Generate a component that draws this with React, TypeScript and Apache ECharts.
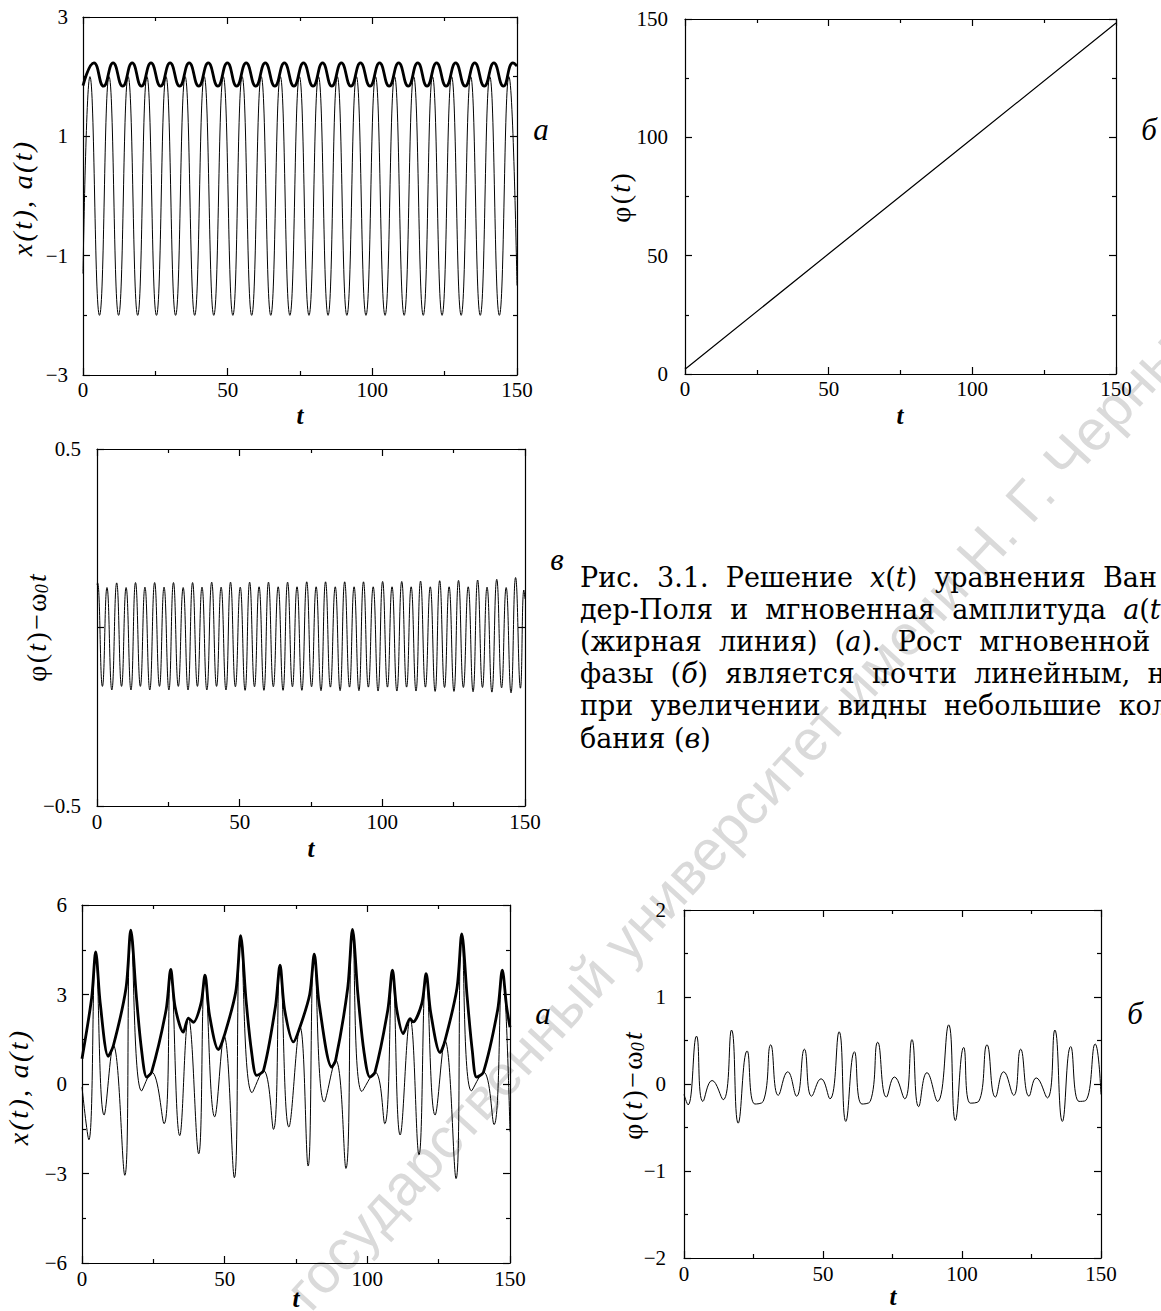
import React, { useEffect, useRef } from 'react';
import * as echarts from 'echarts';

// ---------- shared ticks ----------
const tTicks = [0, 50, 100, 150];
const tMinorTicks = [25, 75, 125];

// ---------- panel а (Van der Pol): x(t) and a(t) ----------
const vdpYTicks = [-3, -1, 1, 3];
const vdpYMinor = [-2, 0, 2];
const vdpX: number[][] = [
  [0, -1.3], [2.4, 2.0], [5.7, -2.0], [9.0, 2.0], [12.3, -2.0], [15.6, 2.0], [18.9, -2.0], [22.1, 2.0],
  [25.4, -2.0], [28.7, 2.0], [32.0, -2.0], [35.3, 2.0], [38.6, -2.0], [41.9, 2.0], [45.2, -2.0], [48.5, 2.0],
  [51.8, -2.0], [55.0, 2.0], [58.3, -2.0], [61.6, 2.0], [64.9, -2.0], [68.2, 2.0], [71.5, -2.0], [74.8, 2.0],
  [78.1, -2.0], [81.4, 2.0], [84.7, -2.0], [87.9, 2.0], [91.2, -2.0], [94.5, 2.0], [97.8, -2.0], [101.1, 2.0],
  [104.4, -2.0], [107.7, 2.0], [111.0, -2.0], [114.3, 2.0], [117.6, -2.0], [120.8, 2.0], [124.1, -2.0],
  [127.4, 2.0], [130.7, -2.0], [134.0, 2.0], [137.3, -2.0], [140.6, 2.0], [143.9, -2.0], [147.2, 2.0], [150, -1.5],
];
const vdpA: number[][] = [
  [0, 1.85], [3.8, 2.23], [7.1, 1.84], [10.4, 2.23], [13.7, 1.84], [17.0, 2.23], [20.2, 1.84], [23.5, 2.23],
  [26.8, 1.84], [30.1, 2.23], [33.4, 1.84], [36.7, 2.23], [40.0, 1.84], [43.3, 2.23], [46.6, 1.84], [49.9, 2.23],
  [53.1, 1.84], [56.4, 2.23], [59.7, 1.84], [63.0, 2.23], [66.3, 1.84], [69.6, 2.23], [72.9, 1.84], [76.2, 2.23],
  [79.5, 1.84], [82.8, 2.23], [86.0, 1.84], [89.3, 2.23], [92.6, 1.84], [95.9, 2.23], [99.2, 1.84], [102.5, 2.23],
  [105.8, 1.84], [109.1, 2.23], [112.4, 1.84], [115.7, 2.23], [118.9, 1.84], [122.2, 2.23], [125.5, 1.84],
  [128.8, 2.23], [132.1, 1.84], [135.4, 2.23], [138.7, 1.84], [142.0, 2.23], [145.3, 1.84], [148.6, 2.23], [150, 2.18],
];

// ---------- panel б: phase φ(t) ----------
const phaseYTicks = [0, 50, 100, 150];
const phaseYMinor = [25, 75, 125];
const vdpPhase: number[][] = [[0, 2.0], [50, 50.8], [100, 99.5], [150, 148.3]];

// ---------- panel в: φ(t) − ω0 t ----------
const devYTicks = [-0.5, 0, 0.5];
const devYLabels = [-0.5, 0.5];
const vdpPhaseDev: number[][] = [
  [0, 0.12], [0.2, 0.125], [1.9, -0.165], [3.5, 0.112], [5.2, -0.175], [6.9, 0.125], [8.6, -0.165], [10.2, 0.112],
  [11.9, -0.175], [13.5, 0.126], [15.2, -0.165], [16.8, 0.113], [18.5, -0.175], [20.2, 0.126], [21.9, -0.165],
  [23.5, 0.113], [25.2, -0.175], [26.8, 0.126], [28.5, -0.165], [30.2, 0.112], [31.9, -0.175], [33.5, 0.126],
  [35.2, -0.165], [36.8, 0.113], [38.5, -0.175], [40.2, 0.127], [41.9, -0.165], [43.5, 0.113], [45.2, -0.175],
  [46.8, 0.127], [48.5, -0.166], [50.2, 0.113], [51.9, -0.176], [53.5, 0.127], [55.2, -0.166], [56.8, 0.114],
  [58.5, -0.176], [60.1, 0.127], [61.8, -0.166], [63.5, 0.114], [65.2, -0.176], [66.8, 0.127], [68.5, -0.166],
  [70.1, 0.114], [71.8, -0.176], [73.5, 0.128], [75.2, -0.166], [76.8, 0.114], [78.5, -0.177], [80.1, 0.128],
  [81.8, -0.167], [83.5, 0.114], [85.2, -0.177], [86.8, 0.128], [88.5, -0.167], [90.1, 0.114], [91.8, -0.177],
  [93.4, 0.128], [95.1, -0.167], [96.8, 0.114], [98.5, -0.178], [100.1, 0.129], [101.8, -0.167], [103.4, 0.114],
  [105.1, -0.178], [106.8, 0.129], [108.5, -0.167], [110.1, 0.114], [111.8, -0.178], [113.4, 0.13], [115.1, -0.167],
  [116.8, 0.114], [118.5, -0.179], [120.1, 0.131], [121.8, -0.168], [123.4, 0.114], [125.1, -0.179], [126.7, 0.132],
  [128.4, -0.168], [130.1, 0.114], [131.8, -0.18], [133.4, 0.133], [135.1, -0.168], [136.7, 0.113], [138.4, -0.181],
  [140.1, 0.135], [141.8, -0.169], [143.4, 0.112], [145.1, -0.183], [146.7, 0.14], [148.4, -0.17], [149.6, 0.105],
  [150, 0.08],
];

// ---------- lower panel а (chaotic): x(t), a(t) ----------
const chaosYTicks = [-6, -3, 0, 3, 6];
const chaosYMinor = [-4.5, -1.5, 1.5, 4.5];
const chaosX: number[][] = [
  [0, -0.1], [2.4, -1.87], [4.8, 4.43], [7.75, -1.04], [11.0, 1.29], [15.0, -3.06], [17.1, 5.16], [20.9, -0.23],
  [24.4, 0.4], [28.75, -1.33], [31.1, 3.84], [34.25, -1.73], [37.3, 2.21], [40.9, -2.34], [43.1, 3.65],
  [46.5, -1.1], [49.8, 1.6], [53.4, -3.14], [55.6, 4.97], [59.6, -0.29], [63.6, 0.45], [67.1, -1.52], [69.4, 3.98],
  [72.5, -1.44], [76.4, 1.91], [79.25, -2.75], [81.4, 4.35], [84.9, -0.6], [88.9, 0.8], [92.5, -2.83], [94.8, 5.18],
  [98.1, -0.25], [102.7, 0.4], [106.1, -1.33], [108.8, 3.82], [111.5, -1.71], [115.0, 2.19], [118.1, -2.37],
  [120.6, 3.7], [123.75, -1.04], [127.2, 1.45], [131.1, -3.17], [133.1, 5.03], [136.5, -0.23], [140.7, 0.4],
  [144.4, -1.36], [147.3, 3.82], [150, -1.6],
];
const chaosA: number[][] = [
  [0, 0.85], [3.4, 2.9], [4.8, 4.43], [6.4, 2.7], [9.2, 0.93], [11.0, 1.29], [15.4, 3.2], [17.1, 5.16], [19.0, 3.0],
  [20.8, 1.2], [22.7, 0.23], [24.4, 0.4], [29.5, 2.5], [31.1, 3.84], [32.6, 2.6], [35.5, 1.74], [37.3, 2.21],
  [39.0, 2.07], [41.7, 2.7], [43.1, 3.65], [44.7, 2.3], [47.8, 1.15], [49.8, 1.6], [53.9, 3.1], [55.6, 4.97],
  [57.5, 2.8], [59.4, 1.1], [61.2, 0.29], [63.6, 0.45], [67.8, 2.6], [69.4, 3.98], [71.0, 2.5], [74.1, 1.41],
  [76.4, 1.91], [79.8, 3.0], [81.4, 4.35], [83.1, 2.7], [87.5, 0.57], [88.9, 0.8], [93.1, 3.2], [94.8, 5.18],
  [96.7, 3.0], [98.8, 1.1], [100.9, 0.23], [102.7, 0.4], [107.2, 2.5], [108.8, 3.82], [110.3, 2.5], [112.6, 1.69],
  [115.0, 2.19], [116.0, 2.08], [119.1, 2.7], [120.6, 3.7], [122.2, 2.4], [125.5, 1.05], [127.2, 1.45],
  [131.4, 3.2], [133.1, 5.03], [135.0, 2.9], [136.8, 1.1], [138.3, 0.23], [140.7, 0.4], [145.7, 2.5], [147.3, 3.82],
  [148.8, 2.6], [150, 1.9],
];

// ---------- lower panel б (chaotic): φ(t) − ω0 t ----------
const chaosDevYTicks = [-2, -1, 0, 1, 2];
const chaosDevYMinor = [-1.5, -0.5, 0.5, 1.5];
const chaosPhaseDev: number[][] = [
  [0, -0.12], [1.45, -0.24], [4.5, 0.55], [6.8, -0.2], [10.1, 0.04], [14.1, -0.18], [17.1, 0.62], [19.5, -0.45],
  [22.7, 0.38], [25.5, -0.23], [28.5, -0.2], [31.2, 0.45], [33.9, -0.13], [37.3, 0.14], [40.5, -0.14], [43.3, 0.4],
  [45.9, -0.14], [49.3, 0.06], [52.5, -0.17], [55.8, 0.6], [58.2, -0.43], [61.3, 0.37], [64.0, -0.23], [67.0, -0.2],
  [69.7, 0.48], [72.8, -0.15], [75.7, 0.08], [79.4, -0.17], [82.0, 0.51], [84.4, -0.26], [87.4, 0.13], [91.2, -0.2],
  [95.2, 0.68], [97.6, -0.42], [100.6, 0.42], [103.0, -0.22], [106.0, -0.2], [109.0, 0.45], [112.0, -0.15],
  [115.0, 0.14], [118.6, -0.13], [121.1, 0.4], [124.1, -0.14], [126.7, 0.07], [130.7, -0.16], [133.4, 0.62],
  [136.1, -0.43], [139.1, 0.43], [142.1, -0.2], [144.5, -0.19], [147.9, 0.46], [150, -0.12],
];

// ---------- caption ----------
const captionLines = [
  'Рис.  3.1.  Решение  {i|x}({i|t})  уравнения  Ван',
  'дер-Поля  и  мгновенная  амплитуда  {i|a}({i|t})',
  '(жирная  линия)  ({i|a}).  Рост  мгновенной',
  'фазы  ({i|б})  является  почти  линейным,  но',
  'при  увеличении  видны  небольшие  коле-',
  'бания ({i|в})',
];
const watermark = 'государственный университет имени Н. Г. Чернышевского';

const SERIF = 'Liberation Serif, serif';
const CAPTION_FONT = 'DejaVu Serif, serif';
const HS = '\u200A';
const fmt = (v: number) => (v < 0 ? '\u2212' + String(Math.abs(v)) : String(v));

type Panel = {
  grid: { left: number; top: number; width: number; height: number };
  yMin: number; yMax: number;
  yMajor: number[]; yMinor: number[]; yLabels: number[]; yMargin: number; xMargin: number;
  series: { data: number[][]; width: number; smooth: number }[];
};

const panels: Panel[] = [
  {
    grid: { left: 83, top: 17, width: 434, height: 358 }, yMin: -3, yMax: 3,
    yMajor: vdpYTicks, yMinor: vdpYMinor, yLabels: vdpYTicks, yMargin: 15, xMargin: 4,
    series: [{ data: vdpX, width: 1, smooth: 0.5 }, { data: vdpA, width: 2.8, smooth: 0.5 }],
  },
  {
    grid: { left: 685, top: 19, width: 431, height: 355 }, yMin: 0, yMax: 150,
    yMajor: phaseYTicks, yMinor: phaseYMinor, yLabels: phaseYTicks, yMargin: 17, xMargin: 4,
    series: [{ data: vdpPhase, width: 1.2, smooth: 0 }],
  },
  {
    grid: { left: 97, top: 449, width: 428, height: 357 }, yMin: -0.5, yMax: 0.5,
    yMajor: devYTicks, yMinor: [], yLabels: devYLabels, yMargin: 16, xMargin: 5,
    series: [{ data: vdpPhaseDev, width: 1, smooth: 0.5 }],
  },
  {
    grid: { left: 82, top: 905, width: 428, height: 358 }, yMin: -6, yMax: 6,
    yMajor: chaosYTicks, yMinor: chaosYMinor, yLabels: chaosYTicks, yMargin: 15, xMargin: 5,
    series: [{ data: chaosX, width: 1, smooth: 0.45 }, { data: chaosA, width: 2.8, smooth: 0.3 }],
  },
  {
    grid: { left: 684, top: 910, width: 417, height: 348 }, yMin: -2, yMax: 2,
    yMajor: chaosDevYTicks, yMinor: chaosDevYMinor, yLabels: chaosDevYTicks, yMargin: 18, xMargin: 5,
    series: [{ data: chaosPhaseDev, width: 1, smooth: 0.5 }],
  },
];

const lineStyle = { color: '#000', width: 1.2 };
const labelStyle = { fontFamily: SERIF, fontSize: 21, color: '#000' };

function mkAxis(gi: number, min: number, max: number, position: string, ticks: number[], len: number,
  labels: number[] | null, showLine: boolean, margin: number) {
  return {
    type: 'value', gridIndex: gi, min, max, position,
    axisLine: { show: showLine, onZero: false, lineStyle },
    axisTick: { show: ticks.length > 0, inside: true, length: len, customValues: ticks, lineStyle },
    axisLabel: labels
      ? { show: true, customValues: labels, formatter: fmt, margin, ...labelStyle }
      : { show: false },
    splitLine: { show: false },
    minorTick: { show: false },
  };
}

function buildOption() {
  const grids: any[] = [];
  const xAxis: any[] = [];
  const yAxis: any[] = [];
  const series: any[] = [];
  panels.forEach((p, gi) => {
    grids.push({ ...p.grid, show: false });
    const xi = xAxis.length;
    const yi = yAxis.length;
    xAxis.push(mkAxis(gi, 0, 150, 'bottom', tTicks, 7, tTicks, true, p.xMargin));
    xAxis.push(mkAxis(gi, 0, 150, 'top', tTicks, 7, null, true, 8));
    xAxis.push(mkAxis(gi, 0, 150, 'bottom', tMinorTicks, 4, null, false, 8));
    xAxis.push(mkAxis(gi, 0, 150, 'top', tMinorTicks, 4, null, false, 8));
    yAxis.push(mkAxis(gi, p.yMin, p.yMax, 'left', p.yMajor, 7, p.yLabels, true, p.yMargin));
    yAxis.push(mkAxis(gi, p.yMin, p.yMax, 'right', p.yMajor, 7, null, true, 8));
    if (p.yMinor.length) {
      yAxis.push(mkAxis(gi, p.yMin, p.yMax, 'left', p.yMinor, 4, null, false, 8));
      yAxis.push(mkAxis(gi, p.yMin, p.yMax, 'right', p.yMinor, 4, null, false, 8));
    }
    p.series.forEach((s) => {
      series.push({
        type: 'line', xAxisIndex: xi, yAxisIndex: yi, data: s.data, showSymbol: false, symbol: 'none',
        smooth: s.smooth, lineStyle: { color: '#000', width: s.width }, z: 3, silent: true,
      });
    });
  });

  const TITLE = 28;
  const italic = { fontFamily: SERIF, fontStyle: 'italic', fontSize: TITLE, fill: '#000' };
  const rot = (x: number, y: number, text: string, rich?: any) => ({
    type: 'text', x, y, rotation: Math.PI / 2, z: 10,
    style: { text, ...italic, align: 'center', verticalAlign: 'middle', textAlign: 'center', textVerticalAlign: 'middle', rich },
  });
  const phiRich = {
    n: { fontFamily: SERIF, fontSize: TITLE, fontStyle: 'normal', fill: '#000' },
    i: { fontFamily: SERIF, fontSize: TITLE, fontStyle: 'italic', fill: '#000' },
    s: { fontFamily: SERIF, fontSize: 18, fontStyle: 'italic', fill: '#000', verticalAlign: 'bottom', padding: [11, 0, 0, 0] },
  };
  const xaTitle = ['x', '(', 't', ')', ',', ' ', 'a', '(', 't', ')'].join(HS);
  const phiTitle = `{n|φ${HS}(${HS}}{i|t}{n|${HS})}`;
  const devTitle = `{n|φ${HS}(${HS}}{i|t}{n|${HS})${HS}−${HS}ω}{s|0}{i|${HS}t}`;
  const txt = (x: number, y: number, text: string, style: any) => ({
    type: 'text', x, y, z: 10,
    style: { text, fill: '#000', align: 'center', verticalAlign: 'middle', textAlign: 'center', textVerticalAlign: 'middle', ...style },
  });
  const tStyle = { fontFamily: SERIF, fontStyle: 'italic', fontWeight: 'bold', fontSize: 25 };
  const letterStyle = { fontFamily: SERIF, fontStyle: 'italic', fontSize: 31 };

  const CAP = 27;
  const capRich = {
    i: { fontFamily: CAPTION_FONT, fontStyle: 'italic', fontSize: CAP, fill: '#000' },
  };
  const caption = captionLines.map((line, k) => ({
    type: 'text', x: 580, y: 577 + k * 32.2, z: 10,
    style: {
      text: line, fontFamily: CAPTION_FONT, fontSize: CAP, fill: '#000', align: 'left', verticalAlign: 'middle',
      textAlign: 'left', textVerticalAlign: 'middle', rich: capRich,
    },
  }));

  const graphic = [
    {
      type: 'text', x: 296, y: 1300, rotation: 0.83, z: -5,
      style: {
        text: watermark, fontFamily: 'Liberation Sans, sans-serif', fontSize: 57, fill: '#dadada',
        align: 'left', verticalAlign: 'middle', textAlign: 'left', textVerticalAlign: 'middle',
      },
    },
    rot(22, 199, xaTitle),
    rot(620, 198, phiTitle, phiRich),
    rot(36, 628, devTitle, phiRich),
    rot(18, 1088, xaTitle),
    rot(632, 1086, devTitle, phiRich),
    txt(300, 415, 't', tStyle),
    txt(900, 415, 't', tStyle),
    txt(311, 848, 't', tStyle),
    txt(296, 1298, 't', tStyle),
    txt(893, 1296, 't', tStyle),
    txt(541, 129, 'a', letterStyle),
    txt(1149, 129, 'б', letterStyle),
    txt(557, 559, 'в', letterStyle),
    txt(543, 1013, 'a', letterStyle),
    txt(1135, 1013, 'б', letterStyle),
    ...caption,
  ];

  return {
    animation: false,
    backgroundColor: '#fff',
    grid: grids,
    xAxis,
    yAxis,
    series,
    graphic,
  };
}

export default function App() {
  const ref = useRef<HTMLDivElement>(null);
  useEffect(() => {
    if (!ref.current) return;
    const chart = echarts.init(ref.current, null, { renderer: 'svg' });
    chart.setOption(buildOption() as any);
    return () => chart.dispose();
  }, []);
  return (
    <div
      ref={ref}
      style={{ position: 'absolute', left: 0, top: 0, width: 1161, height: 1311, background: '#fff' }}
    />
  );
}
